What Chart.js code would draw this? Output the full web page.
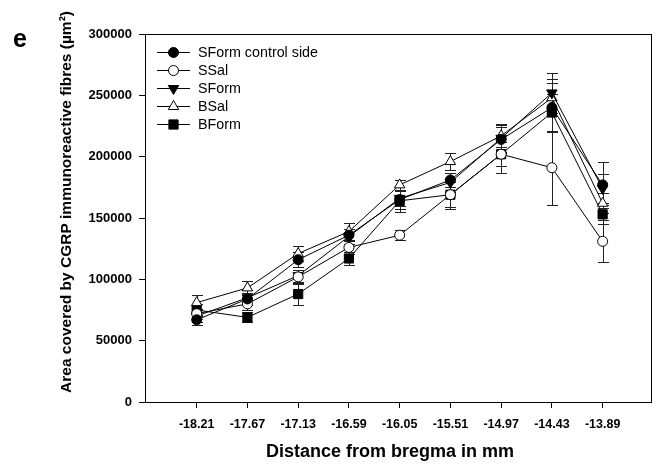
<!DOCTYPE html>
<html>
<head>
<meta charset="utf-8">
<script src="https://cdn.jsdelivr.net/npm/chart.js@4"></script>
<style>
html,body{margin:0;padding:0;background:#fff;}
#wrap{width:659px;height:474px;position:relative;}
</style>
</head>
<body>
<div id="wrap"><canvas id="c" width="659" height="474"></canvas></div>
<script>
// ---- data ----
const xValues = [-18.21, -17.67, -17.13, -16.59, -16.05, -15.51, -14.97, -14.43, -13.89];
const seriesNames = ["SForm control side", "SSal", "SForm", "BSal", "BForm"];
const sFormCtrl = [67000, 84000, 116000, 136000, 165000, 181000, 214000, 240000, 177000];
const sSal      = [72000, 80000, 102000, 126000, 136000, 169000, 202000, 191000, 131000];
const sForm     = [70000, 85000, 103000, 135000, 166000, 179000, 215000, 252000, 174000];
const bSal      = [81000, 93000, 121000, 139000, 177000, 196000, 217000, 248000, 162000];
const bForm     = [75000, 69000, 88000, 117000, 164000, 169000, 202000, 236000, 153000];
const sFormCtrlErr = [4000, 5000, 6000, 5000, 8000, 6000, 10000, 20000, 19000];
const sSalErr      = [4000, 5000, 6000, 5000, 4000, 10000, 10000, 30000, 17000];
const sFormErr     = [5000, 6000, 5000, 6000, 6000, 8000, 12000, 16000, 12000];
const bSalErr      = [6000, 6000, 6000, 7000, 4000, 7000, 9000, 15000, 8000];
const bFormErr     = [5000, 4000, 9000, 5000, 9000, 12000, 15000, 15000, 8000];
const yTicks = [0, 50000, 100000, 150000, 200000, 250000, 300000];
const xTitle = "Distance from bregma in mm";
const yTitle = "Area covered by CGRP immunoreactive fibres (\u00b5m\u00b2)";
const panelLabel = "e";

const pts = arr => arr.map((v, i) => ({x: xValues[i], y: v}));

const styles = [
  {pointStyle: 'circle', fill: '#000', radius: 5, rotation: 0},
  {pointStyle: 'circle', fill: '#fff', radius: 5, rotation: 0},
  {pointStyle: 'triangle', fill: '#000', radius: 6, rotation: 180},
  {pointStyle: 'triangle', fill: '#fff', radius: 6, rotation: 0},
  {pointStyle: 'rect', fill: '#000', radius: 6.5, rotation: 0}
];
const values = [sFormCtrl, sSal, sForm, bSal, bForm];
const errs = [sFormCtrlErr, sSalErr, sFormErr, bSalErr, bFormErr];

const datasets = values.map((vals, k) => ({
  label: seriesNames[k],
  data: pts(vals),
  errors: errs[k],
  borderColor: '#000',
  borderWidth: 1,
  pointStyle: styles[k].pointStyle,
  pointRadius: styles[k].radius,
  pointRotation: styles[k].rotation,
  pointBackgroundColor: styles[k].fill,
  pointBorderColor: '#000',
  pointBorderWidth: 1,
  tension: 0,
  fill: false
}));

const FONT = '"Liberation Sans", Arial, sans-serif';

const errorBars = {
  id: 'errorBars',
  beforeDatasetsDraw(chart) {
    const ctx = chart.ctx, xs = chart.scales.x, ys = chart.scales.y;
    ctx.save();
    ctx.strokeStyle = '#222';
    ctx.lineWidth = 1;
    chart.data.datasets.forEach(ds => {
      ds.data.forEach((p, i) => {
        const e = ds.errors[i];
        const px = Math.round(xs.getPixelForValue(p.x)) + 0.5;
        const top = Math.round(ys.getPixelForValue(p.y + e)) + 0.5;
        const bot = Math.round(ys.getPixelForValue(p.y - e)) + 0.5;
        ctx.beginPath();
        ctx.moveTo(px, top); ctx.lineTo(px, bot);
        ctx.moveTo(px - 5.5, top); ctx.lineTo(px + 5.5, top);
        ctx.moveTo(px - 5.5, bot); ctx.lineTo(px + 5.5, bot);
        ctx.stroke();
      });
    });
    ctx.restore();
  }
};

const decor = {
  id: 'decor',
  afterDraw(chart) {
    const ctx = chart.ctx, a = chart.chartArea;
    ctx.save();
    ctx.strokeStyle = '#000';
    ctx.lineWidth = 1;
    ctx.strokeRect(Math.round(a.left) + 0.5, Math.round(a.top) + 0.5, Math.round(a.right - a.left) - 1, Math.round(a.bottom - a.top));
    // legend
    ctx.font = '14.3px ' + FONT;
    ctx.textBaseline = 'middle';
    ctx.fillStyle = '#000';
    const lx0 = 157, lx1 = 190, tx = 198;
    const rowY = [52, 70, 88, 106, 124];
    chart.data.datasets.forEach((ds, k) => {
      const y = rowY[k];
      ctx.beginPath();
      ctx.moveTo(lx0, y + 0.5); ctx.lineTo(lx1, y + 0.5);
      ctx.strokeStyle = '#000'; ctx.lineWidth = 1; ctx.stroke();
      ctx.fillStyle = ds.pointBackgroundColor;
      ctx.strokeStyle = '#000';
      Chart.helpers.drawPoint(ctx, {pointStyle: ds.pointStyle, radius: ds.pointRadius, rotation: ds.pointRotation, borderWidth: 1}, (lx0 + lx1) / 2, y + 0.5);
      ctx.fillStyle = '#000';
      ctx.textAlign = 'left';
      ctx.fillText(ds.label, tx, y + 1);
    });
    // titles
    ctx.fillStyle = '#000';
    ctx.font = 'bold 18px ' + FONT;
    ctx.textAlign = 'center';
    ctx.textBaseline = 'middle';
    ctx.fillText(xTitle, 390, 452);
    ctx.save();
    ctx.translate(67, 202);
    ctx.rotate(-Math.PI / 2);
    ctx.font = 'bold 15.5px ' + FONT;
    ctx.fillText(yTitle, 0, 0);
    ctx.restore();
    ctx.font = 'bold 25px ' + FONT;
    ctx.textAlign = 'left';
    ctx.textBaseline = 'alphabetic';
    ctx.fillText(panelLabel, 13, 47);
    ctx.restore();
  }
};

new Chart(document.getElementById('c'), {
  type: 'line',
  data: {datasets},
  options: {
    responsive: false,
    animation: false,
    layout: {padding: {top: 34, right: 2, left: 0, bottom: 0}},
    plugins: {legend: {display: false}, tooltip: {enabled: false}},
    scales: {
      x: {
        type: 'linear',
        min: -18.76, max: -13.37,
        afterBuildTicks: s => { s.ticks = xValues.map(v => ({value: v})); },
        afterFit: s => { s.height = 72; },
        grid: {display: true, drawOnChartArea: false, drawTicks: true, tickLength: 6, color: '#000'},
        border: {display: true, color: '#000', width: 1},
        ticks: {
          autoSkip: false, maxRotation: 0, padding: 9,
          color: '#000',
          font: {family: FONT, size: 12.5, weight: 'bold'},
          callback: v => v.toFixed(2)
        }
      },
      y: {
        min: 0, max: 300000,
        afterBuildTicks: s => { s.ticks = yTicks.map(v => ({value: v})); },
        afterFit: s => { s.width = 145; },
        grid: {display: true, drawOnChartArea: false, drawTicks: true, tickLength: 6, color: '#000'},
        border: {display: true, color: '#000', width: 1},
        ticks: {
          padding: 7, color: '#000',
          font: {family: FONT, size: 13, weight: 'bold'},
          callback: v => String(v)
        }
      }
    }
  },
  plugins: [errorBars, decor]
});
</script>
</body>
</html>
